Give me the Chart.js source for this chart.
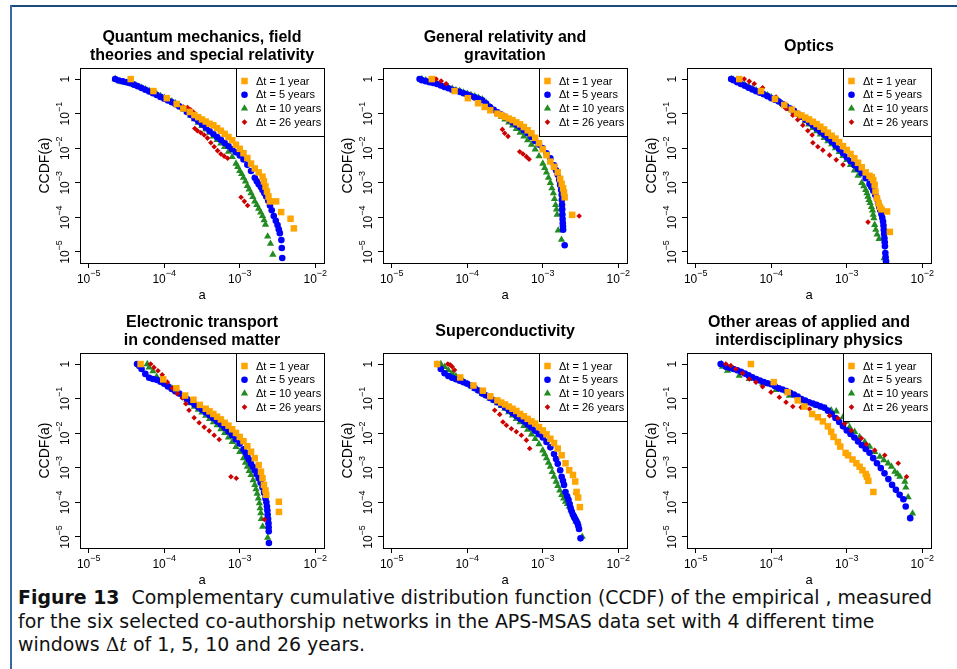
<!DOCTYPE html>
<html>
<head>
<meta charset="utf-8">
<title>CCDF of a</title>
<script src="https://cdn.jsdelivr.net/npm/chart.js@4.4.1/dist/chart.umd.min.js"></script>
<style>
  html, body { margin: 0; background: #fff; }
  #sheet { position: relative; width: 957px; height: 669px; overflow: hidden; background: #fff; }
  #ruleTop { position: absolute; left: 10px; top: 5px; width: 947px; height: 2px; background: #1d4a7d; }
  #ruleLeft { position: absolute; left: 10px; top: 5px; width: 2px; height: 664px; background: #3a67a0; }
  canvas { position: absolute; }
  #caption { position: absolute; left: 18px; top: 586px; transform-origin: 0 0;
    font-family: "DejaVu Sans Condensed", "DejaVu Sans", sans-serif; font-stretch: condensed;
    font-size: 19px; line-height: 23.5px; color: #111; white-space: nowrap; }
  #caption .ln { display: block; }
  #caption .m { font-family: "DejaVu Serif", serif; }
</style>
</head>
<body>
<div id="sheet">
  <div id="ruleTop"></div>
  <div id="ruleLeft"></div>
  <div id="caption">
    <span class="ln" id="ln1"><b>Figure 13</b>&nbsp; Complementary cumulative distribution function (CCDF) of the empirical , measured</span>
    <span class="ln">for the six selected co-authorship networks in the APS-MSAS data set with 4 different time</span>
    <span class="ln">windows <span class="m">&Delta;<i>t</i></span> of 1, 5, 10 and 26 years.</span>
  </div>
</div>
<script>
// [a, CCDF(a)] pairs, one list per field and time window
const qmY1 = [[3.6e-5,1],[7.2e-5,0.45],[1.08e-4,0.28],[1.46e-4,0.19],[1.79e-4,0.14],[2.18e-4,0.112],
  [2.51e-4,0.091],[2.82e-4,0.079],[3.16e-4,0.068],[3.55e-4,0.059],[3.98e-4,0.051],[4.47e-4,0.046],
  [5.01e-4,0.038],[5.62e-4,0.032],[6.31e-4,0.026],[7.08e-4,0.021],[7.94e-4,0.017],[8.91e-4,0.0126],
  [1.0e-3,0.0096],[1.12e-3,0.0072],[1.26e-3,0.0052],[1.41e-3,0.0036],[1.58e-3,0.0026],[1.78e-3,0.0020],
  [2.0e-3,0.0015],[2.09e-3,0.0011],[2.19e-3,7.8e-4],[2.29e-3,5.6e-4],[2.4e-3,4.0e-4],[2.51e-3,2.9e-4],
  [3.03e-3,2.9e-4],[3.53e-3,1.42e-4],[4.7e-3,9.1e-5],[5.2e-3,4.8e-5]];
const qmY5 = [[2.24e-5,1],[2.51e-5,0.91],[2.82e-5,0.86],[3.16e-5,0.81],[3.55e-5,0.76],[3.98e-5,0.69],
  [4.47e-5,0.62],[5.01e-5,0.55],[5.62e-5,0.49],[6.31e-5,0.437],[7.08e-5,0.39],[7.94e-5,0.347],[8.91e-5,0.305],
  [1.0e-4,0.27],[1.12e-4,0.24],[1.26e-4,0.214],[1.41e-4,0.186],[1.58e-4,0.162],[1.78e-4,0.138],[2.0e-4,0.112],
  [2.24e-4,0.091],[2.51e-4,0.074],[2.82e-4,0.06],[3.16e-4,0.049],[3.55e-4,0.04],[3.98e-4,0.0316],
  [4.47e-4,0.0257],[5.01e-4,0.0209],[5.62e-4,0.0174],[6.31e-4,0.0141],[7.08e-4,0.0115],[7.94e-4,0.0093],
  [8.91e-4,0.0076],[1.0e-3,0.0062],[1.12e-3,0.0047],[1.26e-3,0.0033],[1.41e-3,0.0022],[1.58e-3,0.0014],
  [1.68e-3,1.1e-3],[1.78e-3,9.1e-4],[1.9e-3,7.5e-4],[2.0e-3,6.2e-4],[2.12e-3,5.0e-4],[2.24e-3,4.0e-4],
  [2.38e-3,3.0e-4],[2.51e-3,2.2e-4],[2.65e-3,1.6e-4],[2.82e-3,1.1e-4],[3.0e-3,8.0e-5],[3.16e-3,6.0e-5],
  [3.28e-3,4.5e-5],[3.39e-3,3.5e-5],[3.55e-3,2.2e-5],[3.6e-3,1.3e-5],[3.65e-3,6.7e-6]];
const qmY10 = [[2.24e-5,1],[2.51e-5,0.87],[2.82e-5,0.82],[3.16e-5,0.78],[3.55e-5,0.72],[3.98e-5,0.68],
  [4.47e-5,0.62],[5.01e-5,0.56],[5.62e-5,0.51],[6.31e-5,0.457],[7.08e-5,0.41],[7.94e-5,0.37],[8.91e-5,0.327],
  [1.0e-4,0.288],[1.12e-4,0.257],[1.26e-4,0.229],[1.41e-4,0.2],[1.58e-4,0.17],[1.78e-4,0.141],[2.0e-4,0.115],
  [2.24e-4,0.089],[2.51e-4,0.069],[2.82e-4,0.055],[3.16e-4,0.044],[3.55e-4,0.035],[3.98e-4,0.028],
  [4.47e-4,0.022],[5.01e-4,0.0174],[5.62e-4,0.0138],[6.31e-4,0.011],[7.08e-4,0.0079],[7.94e-4,0.0056],
  [8.91e-4,0.0036],[9.4e-4,0.0029],[1.0e-3,0.0022],[1.06e-3,0.0018],[1.12e-3,0.0014],[1.19e-3,0.0011],
  [1.26e-3,8.1e-4],[1.33e-3,6.4e-4],[1.41e-3,5.0e-4],[1.49e-3,3.9e-4],[1.58e-3,2.9e-4],[1.68e-3,2.3e-4],
  [1.78e-3,1.8e-4],[1.89e-3,1.4e-4],[2.0e-3,1.1e-4],[2.1e-3,8.3e-5],[2.19e-3,6.2e-5],[2.34e-3,2.8e-5],
  [2.55e-3,1.74e-5],[2.74e-3,8.4e-6]];
const qmY26 = [[3.66e-5,1],[7.16e-5,0.44],[1.08e-4,0.27],[1.46e-4,0.18],[1.79e-4,0.156],[2.03e-4,0.15],
  [2.24e-4,0.13],[2.44e-4,0.11],[2.54e-4,0.037],[2.75e-4,0.032],[3.05e-4,0.028],[3.38e-4,0.024],
  [3.74e-4,0.0196],[4.14e-4,0.0144],[4.58e-4,0.011],[5.08e-4,0.0085],[5.62e-4,0.0068],[6.22e-4,0.0059],
  [6.9e-4,0.0051],[1.04e-3,3.8e-4],[1.15e-3,2.9e-4],[1.27e-3,2.2e-4]];

const grY1 = [[3.4e-5,1],[6.8e-5,0.45],[1.02e-4,0.28],[1.39e-4,0.2],[1.7e-4,0.156],[2.02e-4,0.125],
  [2.51e-4,0.1],[2.82e-4,0.09],[3.16e-4,0.081],[3.55e-4,0.072],[3.98e-4,0.065],[4.47e-4,0.056],
  [5.01e-4,0.049],[5.62e-4,0.041],[6.31e-4,0.033],[7.08e-4,0.027],[7.94e-4,0.02],[8.91e-4,0.014],
  [1.0e-3,0.0093],[1.12e-3,0.0063],[1.26e-3,0.0041],[1.41e-3,0.0029],[1.58e-3,0.002],[1.7e-3,0.0013],
  [1.78e-3,9.3e-4],[1.86e-3,6.9e-4],[1.91e-3,5.2e-4],[1.95e-3,3.8e-4],[2.45e-3,1.18e-4]];
const grY5 = [[2.34e-5,1],[2.51e-5,0.93],[2.82e-5,0.87],[3.16e-5,0.81],[3.55e-5,0.77],[3.98e-5,0.72],
  [4.47e-5,0.65],[5.01e-5,0.59],[5.62e-5,0.54],[6.31e-5,0.49],[7.08e-5,0.457],[7.94e-5,0.427],[8.91e-5,0.39],
  [1.0e-4,0.355],[1.12e-4,0.324],[1.26e-4,0.295],[1.41e-4,0.269],[1.58e-4,0.245],[1.78e-4,0.195],[2.0e-4,0.155],
  [2.24e-4,0.13],[2.51e-4,0.11],[2.82e-4,0.094],[3.16e-4,0.081],[3.55e-4,0.068],[3.98e-4,0.056],
  [4.47e-4,0.048],[5.01e-4,0.041],[5.62e-4,0.033],[6.31e-4,0.027],[7.08e-4,0.021],[7.94e-4,0.0162],
  [8.91e-4,0.0127],[1.0e-3,0.01],[1.12e-3,0.0071],[1.26e-3,0.0051],[1.41e-3,0.0032],[1.5e-3,0.0023],
  [1.58e-3,0.0017],[1.65e-3,1.2e-3],[1.7e-3,8.7e-4],[1.75e-3,6.2e-4],[1.78e-3,4.5e-4],[1.79e-3,3.2e-4],
  [1.8e-3,2.3e-4],[1.81e-3,1.7e-4],[1.82e-3,1.2e-4],[1.83e-3,9.0e-5],[1.84e-3,6.8e-5],[1.85e-3,5.5e-5],
  [1.86e-3,4.4e-5],[1.95e-3,1.56e-5]];
const grY10 = [[2.51e-5,1],[2.82e-5,0.93],[3.16e-5,0.88],[3.55e-5,0.8],[3.98e-5,0.73],[4.47e-5,0.68],
  [5.01e-5,0.61],[5.62e-5,0.57],[6.31e-5,0.53],[7.08e-5,0.48],[7.94e-5,0.45],[8.91e-5,0.41],[1.0e-4,0.38],
  [1.12e-4,0.347],[1.26e-4,0.32],[1.41e-4,0.288],[1.58e-4,0.26],[1.78e-4,0.209],[2.0e-4,0.16],[2.24e-4,0.126],
  [2.51e-4,0.1],[2.82e-4,0.082],[3.16e-4,0.068],[3.55e-4,0.056],[3.98e-4,0.046],[4.47e-4,0.036],
  [5.01e-4,0.028],[5.62e-4,0.022],[6.31e-4,0.017],[7.08e-4,0.0126],[7.94e-4,0.0093],[8.91e-4,0.0059],
  [1.0e-3,0.0036],[1.06e-3,0.0027],[1.12e-3,0.002],[1.19e-3,0.0014],[1.26e-3,0.001],[1.32e-3,7.0e-4],
  [1.38e-3,5.0e-4],[1.43e-3,3.4e-4],[1.48e-3,2.3e-4],[1.52e-3,1.7e-4],[1.55e-3,1.2e-4],[1.6e-3,4.2e-5],
  [1.77e-3,2.26e-5]];
const grY26 = [[3.87e-5,1],[4.52e-5,0.88],[5.26e-5,0.73],[2.92e-4,0.035],[3.13e-4,0.027],[3.47e-4,0.022],
  [4.95e-4,0.0079],[5.48e-4,0.0068],[6.07e-4,0.0057],[6.59e-4,0.0048],[3.03e-3,1.1e-4]];

const opY1 = [[3.77e-5,1],[7.31e-5,0.45],[1.12e-4,0.265],[1.49e-4,0.178],[1.87e-4,0.131],[2.2e-4,0.1],
  [2.51e-4,0.089],[2.82e-4,0.077],[3.16e-4,0.068],[3.55e-4,0.058],[3.98e-4,0.05],[4.47e-4,0.042],
  [5.01e-4,0.035],[5.62e-4,0.028],[6.31e-4,0.023],[7.08e-4,0.019],[7.94e-4,0.015],[8.91e-4,0.0115],
  [1.0e-3,0.0089],[1.12e-3,0.0068],[1.26e-3,0.0051],[1.41e-3,0.0038],[1.58e-3,0.0028],[1.78e-3,0.002],
  [2.0e-3,0.0016],[2.14e-3,0.00145],[2.24e-3,0.0012],[2.34e-3,8.7e-4],[2.4e-3,5.6e-4],[2.51e-3,3.6e-4],
  [2.63e-3,2.6e-4],[2.75e-3,2.0e-4],[2.88e-3,1.7e-4],[3.42e-3,1.48e-4],[3.72e-3,3.8e-5]];
const opY5 = [[2.95e-5,1],[3.16e-5,0.92],[3.55e-5,0.81],[3.98e-5,0.72],[4.47e-5,0.64],[5.01e-5,0.56],
  [5.62e-5,0.5],[6.31e-5,0.447],[7.08e-5,0.4],[7.94e-5,0.363],[8.91e-5,0.32],[1.0e-4,0.28],[1.12e-4,0.251],
  [1.26e-4,0.224],[1.41e-4,0.19],[1.58e-4,0.162],[1.78e-4,0.14],[2.0e-4,0.12],[2.24e-4,0.099],[2.51e-4,0.081],
  [2.82e-4,0.068],[3.16e-4,0.056],[3.55e-4,0.046],[3.98e-4,0.037],[4.47e-4,0.03],[5.01e-4,0.0245],
  [5.62e-4,0.0195],[6.31e-4,0.0155],[7.08e-4,0.012],[7.94e-4,0.0093],[8.91e-4,0.0072],[1.0e-3,0.0055],
  [1.12e-3,0.0042],[1.26e-3,0.0032],[1.41e-3,0.0025],[1.58e-3,0.0019],[1.78e-3,0.00135],[2.0e-3,9.3e-4],
  [2.12e-3,7.4e-4],[2.24e-3,5.9e-4],[2.38e-3,4.5e-4],[2.51e-3,3.4e-4],[2.6e-3,2.6e-4],[2.69e-3,2.0e-4],
  [2.78e-3,1.6e-4],[2.88e-3,1.24e-4],[2.95e-3,9.7e-5],[3.02e-3,7.6e-5],[3.06e-3,5.8e-5],[3.09e-3,4.4e-5],
  [3.12e-3,3.3e-5],[3.15e-3,2.5e-5],[3.18e-3,1.9e-5],[3.2e-3,1.45e-5],[3.24e-3,9.3e-6],[3.27e-3,7.0e-6],
  [3.31e-3,5.4e-6]];
const opY10 = [[3.0e-5,1],[3.16e-5,0.96],[3.55e-5,0.86],[3.98e-5,0.77],[4.47e-5,0.68],[5.01e-5,0.6],
  [5.62e-5,0.54],[6.31e-5,0.48],[7.08e-5,0.43],[7.94e-5,0.38],[8.91e-5,0.34],[1.0e-4,0.3],[1.12e-4,0.26],
  [1.26e-4,0.23],[1.41e-4,0.19],[1.58e-4,0.16],[1.78e-4,0.136],[2.0e-4,0.115],[2.24e-4,0.093],[2.51e-4,0.076],
  [2.82e-4,0.061],[3.16e-4,0.049],[3.55e-4,0.039],[3.98e-4,0.031],[4.47e-4,0.025],[5.01e-4,0.02],
  [5.62e-4,0.016],[6.31e-4,0.013],[7.08e-4,0.0101],[7.94e-4,0.0078],[8.91e-4,0.006],[1.0e-3,0.0046],
  [1.12e-3,0.0033],[1.26e-3,0.0023],[1.41e-3,0.0016],[1.58e-3,0.001],[1.68e-3,8.0e-4],[1.78e-3,6.2e-4],
  [1.85e-3,5.0e-4],[1.91e-3,4.0e-4],[1.97e-3,3.2e-4],[2.04e-3,2.6e-4],[2.12e-3,2.0e-4],[2.19e-3,1.6e-4],
  [2.24e-3,1.2e-4],[2.29e-3,9.5e-5],[2.34e-3,6.1e-5],[2.42e-3,4.4e-5],[2.52e-3,3.2e-5],[2.68e-3,2.4e-5],
  [3.12e-3,6.6e-6]];
const opY26 = [[4.39e-5,1],[5.12e-5,0.86],[5.96e-5,0.73],[7.69e-5,0.56],[1.16e-4,0.3],[1.57e-4,0.14],
  [1.93e-4,0.09],[2.24e-4,0.067],[2.62e-4,0.046],[3.05e-4,0.032],[3.48e-4,0.024],[3.56e-4,0.0144],
  [4.14e-4,0.011],[4.83e-4,0.0088],[5.92e-4,0.0063],[7.26e-4,0.0046],[8.91e-4,0.0033],[1.91e-3,7.3e-5]];

const etY1 = [[4.86e-5,1],[9.7e-5,0.36],[1.45e-4,0.2],[1.89e-4,0.123],[2.44e-4,0.093],[2.96e-4,0.066],
  [3.55e-4,0.051],[3.98e-4,0.043],[4.47e-4,0.036],[5.01e-4,0.03],[5.62e-4,0.025],[6.31e-4,0.02],
  [7.08e-4,0.0166],[7.94e-4,0.013],[8.91e-4,0.0102],[1.0e-3,0.0078],[1.12e-3,0.0059],[1.26e-3,0.0042],
  [1.41e-3,0.0029],[1.58e-3,0.0019],[1.78e-3,0.0012],[1.91e-3,7.7e-4],[2.0e-3,5.0e-4],[2.09e-3,3.2e-4],
  [2.19e-3,2.2e-4],[2.24e-3,1.65e-4],[3.29e-3,1.04e-4],[3.3e-3,5.3e-5]];
const etY5 = [[4.37e-5,1],[4.68e-5,0.88],[5.01e-5,0.72],[5.62e-5,0.52],[6.31e-5,0.4],[7.08e-5,0.37],
  [7.94e-5,0.35],[8.91e-5,0.31],[1.0e-4,0.27],[1.12e-4,0.226],[1.26e-4,0.19],[1.41e-4,0.162],[1.58e-4,0.14],
  [1.78e-4,0.116],[2.0e-4,0.098],[2.24e-4,0.081],[2.51e-4,0.068],[2.82e-4,0.057],[3.16e-4,0.048],
  [3.55e-4,0.04],[3.98e-4,0.033],[4.47e-4,0.027],[5.01e-4,0.022],[5.62e-4,0.018],[6.31e-4,0.0145],
  [7.08e-4,0.0112],[7.94e-4,0.0087],[8.91e-4,0.0066],[1.0e-3,0.005],[1.12e-3,0.0034],[1.19e-3,0.0027],
  [1.26e-3,0.0021],[1.33e-3,0.0017],[1.41e-3,0.0013],[1.5e-3,1.05e-3],[1.58e-3,8.5e-4],[1.68e-3,6.5e-4],
  [1.78e-3,5.0e-4],[1.89e-3,3.7e-4],[2.0e-3,2.7e-4],[2.1e-3,1.9e-4],[2.19e-3,1.3e-4],[2.25e-3,1.0e-4],
  [2.29e-3,7.6e-5],[2.32e-3,5.8e-5],[2.34e-3,4.4e-5],[2.37e-3,3.3e-5],[2.4e-3,2.5e-5],[2.41e-3,1.9e-5],
  [2.42e-3,1.45e-5],[2.43e-3,6.7e-6]];
const etY10 = [[5.96e-5,1],[6.31e-5,0.8],[7.08e-5,0.62],[7.94e-5,0.43],[8.91e-5,0.347],[1.0e-4,0.28],
  [1.12e-4,0.237],[1.26e-4,0.2],[1.41e-4,0.168],[1.58e-4,0.14],[1.78e-4,0.114],[2.0e-4,0.093],[2.24e-4,0.074],
  [2.51e-4,0.059],[2.82e-4,0.048],[3.16e-4,0.04],[3.55e-4,0.032],[3.98e-4,0.026],[4.47e-4,0.021],
  [5.01e-4,0.017],[5.62e-4,0.0132],[6.31e-4,0.0102],[7.08e-4,0.0076],[7.94e-4,0.0056],[8.91e-4,0.004],
  [1.0e-3,0.0029],[1.12e-3,0.0019],[1.19e-3,0.0014],[1.26e-3,0.00107],[1.33e-3,8.1e-4],[1.41e-3,6.2e-4],
  [1.5e-3,4.4e-4],[1.58e-3,3.2e-4],[1.64e-3,2.4e-4],[1.7e-3,1.8e-4],[1.76e-3,1.3e-4],[1.82e-3,9.5e-5],
  [1.86e-3,6.8e-5],[1.9e-3,4.9e-5],[1.93e-3,3.3e-5],[2.01e-3,2.0e-5],[2.34e-3,9.5e-6]];
const etY26 = [[6.61e-5,1],[7.31e-5,0.8],[8.26e-5,0.64],[9.4e-5,0.49],[1.1e-4,0.3],[1.28e-4,0.2],
  [1.49e-4,0.14],[1.74e-4,0.105],[1.93e-4,0.071],[2.13e-4,0.046],[2.49e-4,0.028],[2.9e-4,0.02],
  [3.38e-4,0.015],[3.94e-4,0.0117],[4.58e-4,0.0087],[5.34e-4,0.0066],[7.64e-4,5.5e-4],[8.99e-4,5.0e-4],
  [2.12e-3,3.2e-5]];

const scY1 = [[4.0e-5,1],[8.07e-5,0.41],[1.21e-4,0.24],[1.61e-4,0.17],[2.02e-4,0.117],[2.51e-4,0.089],
  [2.82e-4,0.077],[3.16e-4,0.068],[3.55e-4,0.059],[3.98e-4,0.051],[4.47e-4,0.044],[5.01e-4,0.036],
  [5.62e-4,0.031],[6.31e-4,0.026],[7.08e-4,0.022],[7.94e-4,0.019],[8.91e-4,0.015],[1.0e-3,0.012],
  [1.12e-3,0.0093],[1.26e-3,0.0069],[1.41e-3,0.0052],[1.58e-3,0.0036],[1.78e-3,0.0023],[2.0e-3,0.00135],
  [2.24e-3,8.5e-4],[2.51e-3,6.2e-4],[2.69e-3,4.0e-4],[2.8e-3,2.0e-4],[2.94e-3,1.38e-4],[3.1e-3,7.3e-5]];
const scY5 = [[4.0e-5,1],[4.47e-5,0.72],[5.01e-5,0.54],[5.62e-5,0.45],[6.31e-5,0.4],[7.08e-5,0.363],
  [7.94e-5,0.33],[8.91e-5,0.3],[1.0e-4,0.27],[1.12e-4,0.234],[1.26e-4,0.2],[1.41e-4,0.172],[1.58e-4,0.14],
  [1.78e-4,0.123],[2.0e-4,0.105],[2.24e-4,0.091],[2.51e-4,0.079],[2.82e-4,0.067],[3.16e-4,0.056],
  [3.55e-4,0.046],[3.98e-4,0.038],[4.47e-4,0.0316],[5.01e-4,0.026],[5.62e-4,0.022],[6.31e-4,0.018],
  [7.08e-4,0.0146],[7.94e-4,0.0117],[8.91e-4,0.0093],[1.0e-3,0.0075],[1.12e-3,0.0056],[1.26e-3,0.0039],
  [1.41e-3,0.0025],[1.5e-3,0.0018],[1.58e-3,0.0013],[1.7e-3,8.5e-4],[1.78e-3,5.5e-4],[1.85e-3,4.2e-4],
  [1.91e-3,3.2e-4],[2.0e-3,2.0e-4],[2.1e-3,1.5e-4],[2.19e-3,1.18e-4],[2.27e-3,9.0e-5],[2.34e-3,6.8e-5],
  [2.42e-3,5.4e-5],[2.51e-3,4.4e-5],[2.6e-3,3.8e-5],[2.69e-3,3.3e-5],[2.78e-3,2.9e-5],[2.88e-3,2.5e-5],
  [2.95e-3,2.1e-5],[3.02e-3,1.7e-5],[3.16e-3,9.1e-6]];
const scY10 = [[4.47e-5,1],[5.01e-5,0.83],[5.62e-5,0.67],[6.31e-5,0.54],[7.08e-5,0.447],[7.94e-5,0.37],
  [8.91e-5,0.316],[1.0e-4,0.27],[1.12e-4,0.229],[1.26e-4,0.195],[1.41e-4,0.168],[1.58e-4,0.14],[1.78e-4,0.122],
  [2.0e-4,0.102],[2.24e-4,0.087],[2.51e-4,0.074],[2.82e-4,0.062],[3.16e-4,0.051],[3.55e-4,0.041],
  [3.98e-4,0.033],[4.47e-4,0.026],[5.01e-4,0.021],[5.62e-4,0.0162],[6.31e-4,0.0126],[7.08e-4,0.0093],
  [7.94e-4,0.0069],[8.91e-4,0.0048],[1.0e-3,0.0032],[1.06e-3,0.0025],[1.12e-3,0.0019],[1.19e-3,0.0014],
  [1.26e-3,0.00107],[1.33e-3,7.6e-4],[1.41e-3,5.5e-4],[1.5e-3,4.0e-4],[1.58e-3,3.0e-4],[1.68e-3,2.2e-4],
  [1.78e-3,1.65e-4],[1.89e-3,1.3e-4],[2.0e-3,1.05e-4],[2.12e-3,9.0e-5],[2.24e-3,7.6e-5],[2.37e-3,6.0e-5],
  [2.51e-3,4.9e-5],[2.63e-3,3.7e-5],[2.75e-3,2.8e-5],[3.33e-3,1.02e-5]];
const scY26 = [[5.53e-5,1],[5.94e-5,0.96],[6.32e-5,0.84],[6.79e-5,0.67],[8.1e-5,0.4],[1.21e-4,0.235],
  [1.61e-4,0.165],[2.02e-4,0.113],[2.31e-4,0.046],[2.69e-4,0.035],[2.97e-4,0.021],[3.3e-4,0.017],
  [3.84e-4,0.0135],[4.47e-4,0.011],[5.21e-4,0.0087],[6.07e-4,0.0063],[6.71e-4,0.0036],[2.72e-3,1.8e-4]];

const oaY1 = [[5.38e-5,1],[1.08e-4,0.3],[1.65e-4,0.154],[2.24e-4,0.089],[2.75e-4,0.059],[3.48e-4,0.036],
  [4.14e-4,0.029],[4.83e-4,0.022],[5.62e-4,0.0158],[6.22e-4,0.011],[6.68e-4,0.0078],[7.64e-4,0.0056],
  [8.2e-4,0.0041],[9.66e-4,0.0027],[1.04e-3,0.0023],[1.19e-3,0.00174],[1.34e-3,0.00135],[1.48e-3,0.00107],
  [1.61e-3,8.5e-4],[1.78e-3,6.6e-4],[1.85e-3,5.5e-4],[1.93e-3,4.2e-4],[2.25e-3,2.0e-4]];
const oaY5 = [[2.14e-5,1],[2.51e-5,0.83],[2.82e-5,0.776],[3.16e-5,0.72],[3.55e-5,0.661],[3.98e-5,0.6],
  [4.47e-5,0.53],[5.01e-5,0.47],[5.62e-5,0.417],[6.31e-5,0.37],[7.08e-5,0.335],[7.94e-5,0.3],[8.91e-5,0.279],
  [1.0e-4,0.26],[1.12e-4,0.229],[1.26e-4,0.2],[1.41e-4,0.184],[1.58e-4,0.166],[1.78e-4,0.148],[2.0e-4,0.132],
  [2.24e-4,0.114],[2.51e-4,0.098],[2.82e-4,0.088],[3.16e-4,0.079],[3.55e-4,0.072],[3.98e-4,0.066],
  [4.47e-4,0.06],[5.01e-4,0.055],[5.62e-4,0.045],[6.31e-4,0.036],[7.08e-4,0.0275],[7.94e-4,0.021],
  [8.91e-4,0.0158],[1.0e-3,0.012],[1.12e-3,0.0095],[1.26e-3,0.0075],[1.41e-3,0.0058],[1.58e-3,0.0045],
  [1.78e-3,0.0035],[2.0e-3,0.0027],[2.24e-3,0.0019],[2.51e-3,0.00135],[2.82e-3,9.8e-4],[3.16e-3,6.9e-4],
  [3.55e-3,4.7e-4],[3.98e-3,3.2e-4],[4.47e-3,2.3e-4],[5.01e-3,1.65e-4],[5.62e-3,1.23e-4],[6.03e-3,7.6e-5],
  [6.92e-3,3.5e-5]];
const oaY10 = [[2.2e-5,1],[2.26e-5,0.84],[2.64e-5,0.64],[3.77e-5,0.46],[5.12e-5,0.37],[7.69e-5,0.27],
  [1.16e-4,0.18],[1.74e-4,0.123],[2.62e-4,0.085],[3.94e-4,0.063],[4.59e-4,0.056],[5.34e-4,0.051],
  [6.22e-4,0.046],[7.26e-4,0.043],[8.91e-4,0.029],[9.86e-4,0.022],[1.09e-3,0.015],[1.27e-3,0.011],
  [1.48e-3,0.0078],[1.73e-3,0.0056],[2.01e-3,0.0041],[2.35e-3,0.0029],[2.74e-3,0.0021],[3.09e-3,0.00166],
  [3.53e-3,0.00135],[3.91e-3,0.00107],[4.33e-3,7.7e-4],[4.7e-3,6.6e-4],[5.05e-3,5.5e-4],[5.87e-3,4.0e-4],
  [6.05e-3,2.7e-4],[6.5e-3,1.41e-4],[7.43e-3,4.8e-5]];
const oaY26 = [[2.51e-5,1],[2.92e-5,0.9],[3.4e-5,0.72],[4.17e-5,0.54],[5.12e-5,0.37],[6.28e-5,0.3],
  [7.69e-5,0.22],[9.93e-5,0.154],[1.28e-4,0.11],[1.57e-4,0.079],[1.93e-4,0.059],[2.49e-4,0.056],
  [3.21e-4,0.05],[5.92e-4,0.032],[7.64e-4,0.027],[9.38e-4,0.019],[1.15e-3,0.012],[1.56e-3,0.0071],
  [1.82e-3,0.0048],[2.34e-3,0.0032],[3.18e-3,0.0023],[4.8e-3,0.00135],[6.18e-3,5.5e-4]];

const seriesLabels = ['\u0394t = 1 year', '\u0394t = 5 years', '\u0394t = 10 years', '\u0394t = 26 years'];
const xTickExps = [-5, -4, -3, -2];
const yTickExps = [0, -1, -2, -3, -4, -5];

const FONT = '"Liberation Sans", Arial, Helvetica, sans-serif';
const BOX_W = 244, BOX_H = 195;
const LEFT_M = 70, RIGHT_M = 10, TOP_M = 62, BOTTOM_M = 45;

// orange squares, blue dots, green triangles, red diamonds; lower order sits on top
const seriesStyles = [
  { color: '#FFA500', pointStyle: 'rect', radius: 4.6, order: 0 },
  { color: '#0000FF', pointStyle: 'circle', radius: 3.3, order: 2 },
  { color: '#228B22', pointStyle: 'triangle', radius: 4.2, order: 3 },
  { color: '#CD0000', pointStyle: 'rectRot', radius: 2.8, order: 1 }
];

const panels = [
  { left: 80, top: 68, title: ['Quantum mechanics, field', 'theories and special relativity'], series: [qmY1, qmY5, qmY10, qmY26] },
  { left: 383, top: 68, title: ['General relativity and', 'gravitation'], series: [grY1, grY5, grY10, grY26] },
  { left: 687, top: 68, title: ['Optics'], series: [opY1, opY5, opY10, opY26] },
  { left: 80, top: 353, title: ['Electronic transport', 'in condensed matter'], series: [etY1, etY5, etY10, etY26] },
  { left: 383, top: 353, title: ['Superconductivity'], series: [scY1, scY5, scY10, scY26] },
  { left: 687, top: 353, title: ['Other areas of applied and', 'interdisciplinary physics'], series: [oaY1, oaY5, oaY10, oaY26] }
];

// "10" with a raised exponent, centred on cx, baseline at baseY
function powerLabel(ctx, exp, cx, baseY) {
  ctx.fillStyle = '#000';
  ctx.textBaseline = 'alphabetic';
  if (exp === 0) {
    ctx.font = '12px ' + FONT;
    ctx.textAlign = 'center';
    ctx.fillText('1', cx, baseY);
    return;
  }
  const sup = '\u2212' + Math.abs(exp);
  ctx.font = '12px ' + FONT;
  const wBase = ctx.measureText('10').width;
  ctx.font = '9px ' + FONT;
  const wSup = ctx.measureText(sup).width;
  const x0 = cx - (wBase + wSup) / 2;
  ctx.textAlign = 'left';
  ctx.font = '12px ' + FONT;
  ctx.fillText('10', x0, baseY);
  ctx.font = '9px ' + FONT;
  ctx.fillText(sup, x0 + wBase, baseY - 7);
}

function legendMarker(ctx, st, x, y) {
  ctx.fillStyle = st.color;
  if (Chart.helpers && Chart.helpers.drawPoint) {
    Chart.helpers.drawPoint(ctx, { pointStyle: st.pointStyle, radius: st.radius, rotation: 0, borderWidth: 0 }, x, y);
  } else {
    ctx.beginPath();
    ctx.arc(x, y, st.radius, 0, Math.PI * 2);
    ctx.fill();
  }
}

// box, R-style tick labels and the legend in the top right corner
const framePlugin = {
  id: 'frame',
  afterDraw(chart) {
    const { ctx, chartArea: area, scales } = chart;
    ctx.save();
    ctx.strokeStyle = '#000';
    ctx.lineWidth = 1;
    ctx.strokeRect(Math.round(area.left) + 0.5, Math.round(area.top) + 0.5,
      Math.round(area.right - area.left), Math.round(area.bottom - area.top));

    xTickExps.forEach(e => {
      powerLabel(ctx, e, scales.x.getPixelForValue(10 ** e), area.bottom + 20);
    });
    yTickExps.forEach(e => {
      ctx.save();
      ctx.translate(area.left - 11, scales.y.getPixelForValue(10 ** e));
      ctx.rotate(-Math.PI / 2);
      powerLabel(ctx, e, 0, 0);
      ctx.restore();
    });

    const lw = 88, lh = 68;
    const lx = Math.round(area.right) - lw, ly = Math.round(area.top);
    ctx.fillStyle = '#fff';
    ctx.fillRect(lx, ly, lw, lh);
    ctx.strokeStyle = '#000';
    ctx.strokeRect(lx + 0.5, ly + 0.5, lw, lh);
    seriesLabels.forEach((label, i) => {
      const rowY = ly + 13 + i * 13.7;
      legendMarker(ctx, seriesStyles[i], lx + 8.5, rowY);
      ctx.fillStyle = '#000';
      ctx.font = '11px ' + FONT;
      ctx.textAlign = 'left';
      ctx.textBaseline = 'middle';
      ctx.fillText(label, lx + 20, rowY + 0.5);
    });
    ctx.restore();
  }
};

const sheet = document.getElementById('sheet');

panels.forEach(p => {
  const canvas = document.createElement('canvas');
  canvas.width = LEFT_M + BOX_W + RIGHT_M;
  canvas.height = TOP_M + BOX_H + BOTTOM_M;
  canvas.style.left = (p.left - LEFT_M) + 'px';
  canvas.style.top = (p.top - TOP_M) + 'px';
  sheet.appendChild(canvas);

  const twoLines = p.title.length > 1;
  new Chart(canvas, {
    type: 'scatter',
    data: {
      datasets: p.series.map((pts, i) => ({
        label: seriesLabels[i],
        data: pts.map(([a, c]) => ({ x: a, y: c })),
        pointStyle: seriesStyles[i].pointStyle,
        pointRadius: seriesStyles[i].radius,
        pointHoverRadius: seriesStyles[i].radius,
        pointBackgroundColor: seriesStyles[i].color,
        pointBorderColor: seriesStyles[i].color,
        pointBorderWidth: 0,
        backgroundColor: seriesStyles[i].color,
        order: seriesStyles[i].order
      }))
    },
    options: {
      responsive: false,
      animation: false,
      devicePixelRatio: 1,
      events: [],
      layout: { padding: { left: 0, right: RIGHT_M, top: 0, bottom: 0 } },
      scales: {
        x: {
          type: 'logarithmic',
          bounds: 'data',
          min: 10 ** -5.115,
          max: 10 ** -1.885,
          afterBuildTicks: s => { s.ticks = xTickExps.map(e => ({ value: 10 ** e })); },
          afterFit: s => { s.height = BOTTOM_M; },
          ticks: { display: false },
          grid: { drawOnChartArea: false, drawTicks: true, tickLength: 5, color: '#000', lineWidth: 1 },
          border: { display: false },
          title: { display: true, text: 'a', color: '#000', font: { family: FONT, size: 13 }, padding: { top: 0, bottom: 5 } }
        },
        y: {
          type: 'logarithmic',
          bounds: 'data',
          min: 10 ** -5.32,
          max: 10 ** 0.32,
          afterBuildTicks: s => { s.ticks = yTickExps.map(e => ({ value: 10 ** e })); },
          afterFit: s => { s.width = LEFT_M; },
          ticks: { display: false },
          grid: { drawOnChartArea: false, drawTicks: true, tickLength: 5, color: '#000', lineWidth: 1 },
          border: { display: false },
          title: { display: true, text: 'CCDF(a)', color: '#000', font: { family: FONT, size: 14 }, padding: { top: 26.6, bottom: 0 } }
        }
      },
      plugins: {
        legend: { display: false },
        tooltip: { enabled: false },
        title: {
          display: true,
          fullSize: false,
          text: p.title,
          color: '#000',
          font: { family: FONT, size: 16, weight: 'bold', lineHeight: 1.125 },
          padding: twoLines ? { top: 23, bottom: 3 } : { top: 32, bottom: 12 }
        }
      }
    },
    plugins: [framePlugin]
  });
});

// stretch the caption so its first line spans the figure width
const caption = document.getElementById('caption');
const firstLine = document.getElementById('ln1');
const lineWidth = firstLine.getBoundingClientRect().width;
caption.style.transform = 'scaleX(' + (914 / lineWidth) + ')';
</script>
</body>
</html>
